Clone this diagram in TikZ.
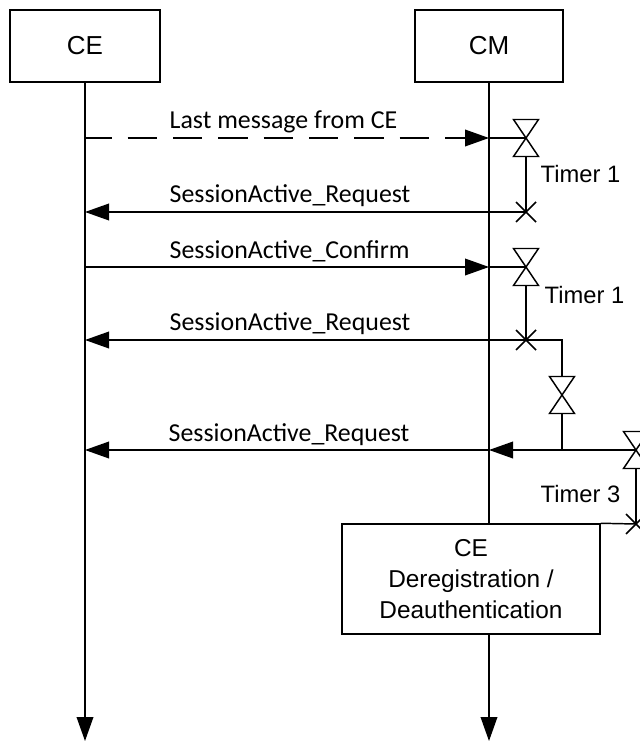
\documentclass[tikz,border=0pt]{standalone}
\usepackage{fontspec}
\setmainfont{Carlito}
\newfontfamily\boxfont{Liberation Sans}
\usetikzlibrary{arrows.meta}
\tikzset{
  unit/.style={draw,line width=1.1pt,font=\boxfont\fontsize{19.5}{21}\selectfont},
  msg/.style={font=\fontsize{19.4}{22}\selectfont,inner sep=0pt},
  timerlabel/.style={font=\boxfont\fontsize{17.8}{20}\selectfont,inner sep=0pt},
  valve/.style={minimum width=18.75pt,minimum height=27.75pt,inner sep=0pt,outer sep=0pt},
  crossmark/.style={minimum width=15pt,minimum height=15pt,inner sep=0pt,outer sep=0pt},
  head/.style={-{Triangle[length=18pt,width=12.5pt]}}
}
\newcommand{\tvalve}[2]{%
\node[valve] (#1) at #2 {};
\draw (#1.north west) -- (#1.south east) -- (#1.south west) -- (#1.north east) -- cycle;%
}
\newcommand{\tcross}[2]{%
\node[crossmark] (#1) at #2 {};
\draw (#1.north west) -- (#1.south east) (#1.south west) -- (#1.north east);%
}
\begin{document}
\begin{tikzpicture}[x=0.75pt,y=-0.75pt,line width=1.1pt]
\useasboundingbox (0,0) rectangle (639,742);
% lifelines
\node[unit,minimum width=112.5pt,minimum height=54pt] (ce) at (85,46) {CE};
\node[unit,minimum width=111pt,minimum height=54pt] (cm) at (489,46) {CM};
\coordinate (ceend) at (85,741);
\coordinate (cmend) at (489,741);
\node[unit,font=\boxfont\fontsize{18.3}{23}\selectfont,align=center,minimum width=193.5pt,minimum height=82.5pt,fill=white] (dereg) at (471,579) {CE\\Deregistration /\\Deauthentication};
\draw[head] (dereg.south -| cm) -- (cmend);
\draw[head] (ce) -- (ceend);
\draw (cm) -- (dereg.north -| cm);
% timers
\tvalve{vone}{(526,138)}
\tcross{xone}{(526,212)}
\tvalve{vtwo}{(526,267)}
\tcross{xtwo}{(526,340)}
\tvalve{vthree}{(562,395)}
\tvalve{vfour}{(636,450)}
\tcross{xthree}{(636,524)}
\coordinate (jtwo) at (562,340);
\coordinate (jthree) at (562,450);
\draw (vone.south) -- (xone.center);
\draw (vtwo.south) -- (xtwo.center);
\draw (vfour.south) -- (xthree.center);
\draw (xtwo.center) -- (jtwo) -- (vthree.north);
\draw (vthree.south) -- (jthree);
% messages
\draw[head,dash pattern=on 22pt off 12pt,dash phase=2pt] (vone -| ce) -- (vone -| cm);
\draw[head] (vtwo -| ce) -- (vtwo -| cm);
\draw (vone -| cm) -- (vone.center);
\draw (vtwo -| cm) -- (vtwo.center);
\draw[head] (xone.center) -- (xone -| ce);
\draw[head] (xtwo.center) -- (xtwo -| ce);
\draw[head] (vfour.center) -- (vfour -| cm);
\draw[head] (vfour -| cm) -- (vfour -| ce);
\draw (dereg.north east) -- (xthree.center);
\node[msg,anchor=west] (lastmsg) at (169,122) {Last message from CE};
\node[msg,anchor=west] (reqone) at (169,196) {SessionActive\_Request};
\node[msg,anchor=west] (conf) at (169,251) {SessionActive\_Confirm};
\node[msg,anchor=west] (reqtwo) at (169,324) {SessionActive\_Request};
\node[msg,anchor=west] (reqthree) at (168,435) {SessionActive\_Request};
\node[timerlabel,anchor=west] (tone) at (540,174) {Timer 1};
\node[timerlabel,anchor=west] (ttwo) at (544,295) {Timer 1};
\node[timerlabel,anchor=west] (tthree) at (540,494) {Timer 3};
\end{tikzpicture}
\end{document}
